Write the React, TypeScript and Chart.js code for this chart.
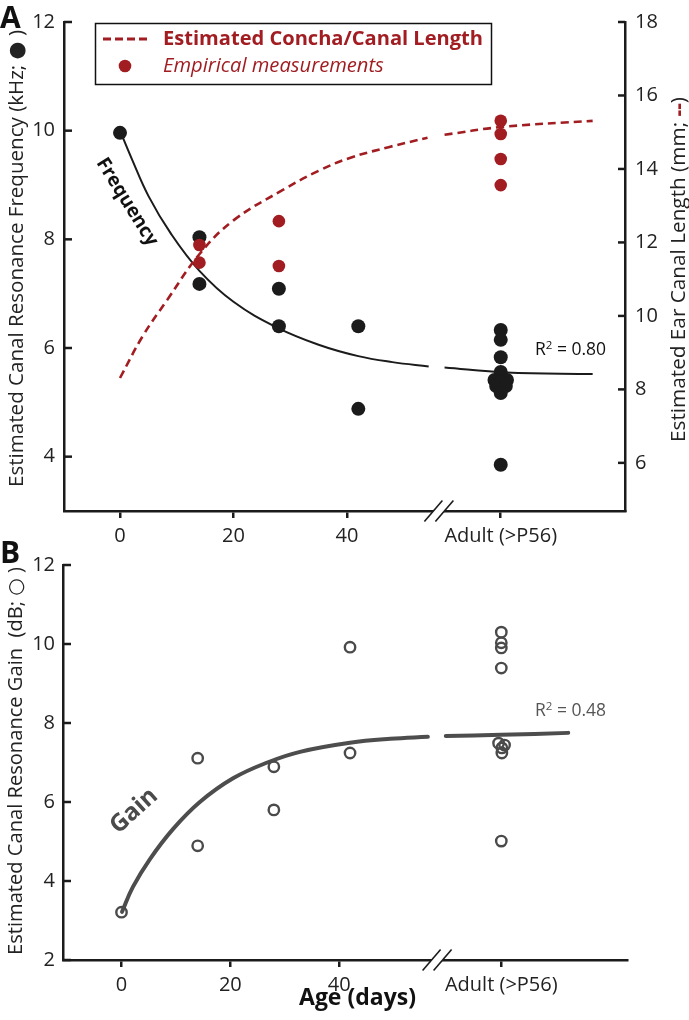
import React, { useEffect, useRef } from "react";
import { Chart, registerables } from "chart.js";

Chart.register(...registerables);

// ---------- styling ----------
const FONT = '"Open Sans", "Noto Sans", "DejaVu Sans", sans-serif';
const RED = "#a11d22";
const INK = "#1b1b1b";
const GRAY = "#4a4a4a";
const TEXT = "#222222";

// ---------- x axis (broken: pups 0–42 d, then adults) ----------
const AGE_TICKS = [0, 20, 40];
const ADULT_LABEL = "Adult (>P56)";
const ADULT_POS_A = 67.1; // where the adult column sits on panel A's broken axis
const ADULT_POS_B = 69.8; // same for panel B
const BREAK_POS_A = 56.2;
const BREAK_POS_B = 58.0;
const X_RANGE_A = [-9.87, 89.0];
const X_RANGE_B = [-10.75, 92.9];

// ---------- panel A: frequency (left axis, kHz) ----------
const FREQ_TICKS = [4, 6, 8, 10, 12];
const FREQ_RANGE = [3, 12];
const FREQ_PUP_AGES = [0, 14, 14, 28, 28, 42, 42];
const FREQ_PUP_VALUES = [9.96, 8.04, 7.18, 7.09, 6.4, 6.4, 4.88];
const FREQ_ADULT_VALUES = [6.33, 6.15, 5.83, 5.56, 5.41, 5.41, 5.37, 5.3, 5.3, 5.17, 3.85];
const FREQ_ADULT_JITTER = [0, 0, 0, 0, -1.1, 1.1, 0, -0.8, 0.9, 0, 0];
const FREQ_FIT_AGES = [0, 2, 5, 9, 14, 20, 27.6, 35, 42, 48, 54.4];
const FREQ_FIT_VALUES = [10.0, 9.5, 8.8, 8.1, 7.42, 6.85, 6.38, 6.06, 5.85, 5.74, 5.66];
const FREQ_FIT_ADULT_AGES = [57.2, 68.1, 83.3];
const FREQ_FIT_ADULT_VALUES = [5.64, 5.55, 5.52];
const FREQ_R2 = "0.80";

// ---------- panel A: canal length (right axis, mm) ----------
const LENGTH_TICKS = [6, 8, 10, 12, 14, 16, 18];
const LENGTH_RANGE = [4.69, 18];
const LENGTH_PUP_AGES = [14, 14, 28, 28];
const LENGTH_PUP_VALUES = [11.93, 11.45, 12.58, 11.36];
const LENGTH_ADULT_VALUES = [15.31, 14.95, 14.27, 13.56];
const LENGTH_FIT_AGES = [0, 4, 8.3, 14.1, 20, 28.7, 35, 40.5, 47.5, 54.2];
const LENGTH_FIT_VALUES = [8.31, 9.45, 10.43, 11.7, 12.6, 13.43, 13.95, 14.3, 14.6, 14.85];
const LENGTH_FIT_ADULT_AGES = [57.2, 67.1, 83.3];
const LENGTH_FIT_ADULT_VALUES = [14.93, 15.14, 15.31];

// ---------- panel B: gain (dB) ----------
const GAIN_TICKS = [2, 4, 6, 8, 10, 12];
const GAIN_RANGE = [2, 12];
const GAIN_PUP_AGES = [0, 14, 14, 28, 28, 42, 42];
const GAIN_PUP_VALUES = [3.21, 7.11, 4.89, 6.89, 5.8, 9.92, 7.24];
const GAIN_ADULT_VALUES = [10.3, 10.03, 9.9, 9.39, 7.49, 7.44, 7.37, 7.24, 5.01];
const GAIN_ADULT_JITTER = [0, 0, 0, 0, -0.5, 0.6, 0.1, 0.1, 0];
const GAIN_FIT_AGES = [0.1, 2.1, 5.2, 9.5, 14.4, 20.5, 26.8, 32.8, 42.0, 49.4, 56.3];
const GAIN_FIT_VALUES = [3.22, 3.85, 4.55, 5.32, 6.0, 6.6, 7.0, 7.27, 7.5, 7.6, 7.65];
const GAIN_FIT_ADULT_AGES = [59.6, 69.8, 82.1];
const GAIN_FIT_ADULT_VALUES = [7.67, 7.7, 7.75];
const GAIN_R2 = "0.48";

// ---------- texts ----------
const TITLE_FREQ = "Estimated Canal Resonance Frequency (kHz; \u25CF )";
const TITLE_LENGTH = "Estimated Ear Canal Length (mm; ";
const TITLE_GAIN = "Estimated Canal Resonance Gain  (dB; \u25CB )";
const X_TITLE = "Age (days)";
const LEGEND_LINE = "Estimated Concha/Canal Length";
const LEGEND_DOTS = "Empirical measurements";

type Pt = { x: number; y: number | null };
const zip = (xs: number[], ys: number[]): Pt[] => xs.map((x, i) => ({ x, y: ys[i] }));
const brokenCurve = (lx: number[], ly: number[], bx: number, rx: number[], ry: number[]): Pt[] => [
  ...zip(lx, ly),
  { x: bx, y: null },
  ...zip(rx, ry),
];

function setFit(ctx: CanvasRenderingContext2D, text: string, style: string, target: number) {
  ctx.font = `${style} 20px ${FONT}`;
  const w = ctx.measureText(text).width;
  const size = (20 * target) / w;
  ctx.font = `${style} ${size.toFixed(2)}px ${FONT}`;
  return size;
}

function rotated(ctx: CanvasRenderingContext2D, x: number, y: number, a: number, fn: () => void) {
  ctx.save();
  ctx.translate(x, y);
  ctx.rotate(a);
  fn();
  ctx.restore();
}

type Run = { t: string; style: string; color: string };
function drawRuns(ctx: CanvasRenderingContext2D, runs: Run[], cx: number, cy: number, target: number) {
  let total = 0;
  for (const r of runs) {
    ctx.font = `${r.style} 20px ${FONT}`;
    total += ctx.measureText(r.t).width;
  }
  const size = (20 * target) / total;
  let x = -target / 2;
  ctx.textAlign = "left";
  ctx.textBaseline = "middle";
  for (const r of runs) {
    ctx.font = `${r.style} ${size.toFixed(2)}px ${FONT}`;
    ctx.fillStyle = r.color;
    ctx.fillText(r.t, cx + x, cy);
    x += ctx.measureText(r.t).width;
  }
}

function drawR2(ctx: CanvasRenderingContext2D, x: number, base: number, value: string, color: string) {
  ctx.fillStyle = color;
  ctx.textAlign = "left";
  ctx.textBaseline = "alphabetic";
  ctx.font = `400 17.5px ${FONT}`;
  ctx.fillText("R", x, base);
  let cx = x + ctx.measureText("R").width;
  ctx.font = `400 11.5px ${FONT}`;
  ctx.fillText("2", cx, base - 6.5);
  cx += ctx.measureText("2").width;
  ctx.font = `400 17.5px ${FONT}`;
  ctx.fillText(" = " + value, cx, base);
}

function drawBreak(ctx: CanvasRenderingContext2D, cx: number, y: number) {
  ctx.save();
  ctx.fillStyle = "#ffffff";
  ctx.beginPath();
  ctx.moveTo(cx - 5.5 - 3.5, y + 4);
  ctx.lineTo(cx - 5.5 + 3.5, y - 4);
  ctx.lineTo(cx + 5.5 + 3.5, y - 4);
  ctx.lineTo(cx + 5.5 - 3.5, y + 4);
  ctx.closePath();
  ctx.fill();
  ctx.strokeStyle = INK;
  ctx.lineWidth = 1.6;
  for (const d of [-5.5, 5.5]) {
    ctx.beginPath();
    ctx.moveTo(cx + d - 9, y + 10.5);
    ctx.lineTo(cx + d + 9, y - 10.5);
    ctx.stroke();
  }
  ctx.restore();
}

function inwardTicks(ctx: CanvasRenderingContext2D, chart: any, id: string, side: "left" | "right", len: number) {
  const s = chart.scales[id];
  if (!s) return;
  ctx.save();
  ctx.strokeStyle = INK;
  ctx.lineWidth = 2.5;
  const x0 = side === "left" ? chart.chartArea.left : chart.chartArea.right;
  const x1 = side === "left" ? x0 + len : x0 - len;
  for (const t of s.ticks) {
    const y = s.getPixelForValue(t.value);
    ctx.beginPath();
    ctx.moveTo(x0, y);
    ctx.lineTo(x1, y);
    ctx.stroke();
  }
  ctx.restore();
}

const tickFont = { family: FONT, size: 20 };

function xScale(range: number[], adultPos: number, afterH: number) {
  return {
    type: "linear",
    position: "bottom",
    min: range[0],
    max: range[1],
    afterBuildTicks: (s: any) => {
      s.ticks = [...AGE_TICKS, adultPos].map((v) => ({ value: v }));
    },
    afterFit: (s: any) => {
      s.height = afterH;
    },
    ticks: {
      autoSkip: false,
      maxRotation: 0,
      minRotation: 0,
      padding: 6,
      color: TEXT,
      font: tickFont,
      callback: (v: number) => (Math.abs(v - adultPos) < 0.01 ? ADULT_LABEL : String(v)),
    },
    grid: { drawOnChartArea: false, drawTicks: true, tickLength: 7, lineWidth: 2.5, color: INK },
    border: { color: INK, width: 2.5 },
  };
}

function yScale(pos: "left" | "right", range: number[], ticks: number[], width: number, pad: number) {
  return {
    type: "linear",
    position: pos,
    min: range[0],
    max: range[1],
    afterBuildTicks: (s: any) => {
      s.ticks = ticks.map((v) => ({ value: v }));
    },
    afterFit: (s: any) => {
      s.width = width;
    },
    ticks: { padding: pad, color: TEXT, font: tickFont },
    grid: { display: false, drawTicks: false, drawOnChartArea: false },
    border: { color: INK, width: 2.5 },
  };
}

const curveStyle = { showLine: true, pointRadius: 0, tension: 0.4 };

function configA(): any {
  const freqDots = [
    ...zip(FREQ_PUP_AGES, FREQ_PUP_VALUES),
    ...FREQ_ADULT_VALUES.map((v, i) => ({ x: ADULT_POS_A + FREQ_ADULT_JITTER[i], y: v })),
  ];
  const lenDots = [
    ...zip(LENGTH_PUP_AGES, LENGTH_PUP_VALUES),
    ...LENGTH_ADULT_VALUES.map((v) => ({ x: ADULT_POS_A, y: v })),
  ];
  const annot = {
    id: "annotA",
    afterDraw(chart: any) {
      const ctx: CanvasRenderingContext2D = chart.ctx;
      inwardTicks(ctx, chart, "y", "left", 8);
      inwardTicks(ctx, chart, "y2", "right", 7);
      drawBreak(ctx, chart.scales.x.getPixelForValue(BREAK_POS_A), chart.chartArea.bottom);

      ctx.save();
      ctx.fillStyle = "#111";
      ctx.font = `700 30px ${FONT}`;
      ctx.textAlign = "left";
      ctx.textBaseline = "alphabetic";
      ctx.fillText("A", 0, 28);

      rotated(ctx, 17, 258.5, -Math.PI / 2, () => {
        setFit(ctx, TITLE_FREQ, "normal 400", 457);
        ctx.fillStyle = TEXT;
        ctx.textAlign = "center";
        ctx.textBaseline = "middle";
        ctx.fillText(TITLE_FREQ, 0, 0);
      });
      rotated(ctx, 679, 269.5, -Math.PI / 2, () => {
        drawRuns(
          ctx,
          [
            { t: TITLE_LENGTH, style: "normal 400", color: TEXT },
            { t: "--", style: "normal 700", color: RED },
            { t: ")", style: "normal 400", color: TEXT },
          ],
          0,
          0,
          345
        );
      });

      // legend
      ctx.strokeStyle = "#111";
      ctx.lineWidth = 1.5;
      ctx.strokeRect(95.5, 23.5, 396, 61);
      ctx.strokeStyle = RED;
      ctx.lineWidth = 3;
      ctx.setLineDash([8, 4]);
      ctx.beginPath();
      ctx.moveTo(103, 39);
      ctx.lineTo(147, 39);
      ctx.stroke();
      ctx.setLineDash([]);
      ctx.fillStyle = RED;
      ctx.beginPath();
      ctx.arc(125, 66, 6.3, 0, Math.PI * 2);
      ctx.fill();
      ctx.textAlign = "left";
      ctx.textBaseline = "middle";
      setFit(ctx, LEGEND_LINE, "normal 700", 320);
      ctx.fillText(LEGEND_LINE, 163, 39);
      setFit(ctx, LEGEND_DOTS, "italic 400", 221);
      ctx.fillText(LEGEND_DOTS, 163, 66);

      ctx.fillStyle = "#111";
      rotated(ctx, 127, 202, (58 * Math.PI) / 180, () => {
        setFit(ctx, "Frequency", "normal 700", 100);
        ctx.textAlign = "center";
        ctx.textBaseline = "middle";
        ctx.fillText("Frequency", 0, 0);
      });

      drawR2(ctx, 535, 355, FREQ_R2, "#111");
      ctx.restore();
    },
  };

  return {
    type: "scatter",
    data: {
      datasets: [
        {
          label: "Empirical measurements",
          data: lenDots,
          yAxisID: "y2",
          pointRadius: 6.3,
          pointBackgroundColor: RED,
          pointBorderWidth: 0,
          order: 0,
        },
        {
          label: "Estimated Concha/Canal Length",
          data: brokenCurve(LENGTH_FIT_AGES, LENGTH_FIT_VALUES, BREAK_POS_A, LENGTH_FIT_ADULT_AGES, LENGTH_FIT_ADULT_VALUES),
          yAxisID: "y2",
          ...curveStyle,
          borderColor: RED,
          borderWidth: 2.6,
          borderDash: [8, 5],
          order: 1,
        },
        {
          label: "Frequency",
          data: freqDots,
          yAxisID: "y",
          pointRadius: 7,
          pointBackgroundColor: INK,
          pointBorderWidth: 0,
          order: 2,
        },
        {
          label: "Frequency fit",
          data: brokenCurve(FREQ_FIT_AGES, FREQ_FIT_VALUES, BREAK_POS_A, FREQ_FIT_ADULT_AGES, FREQ_FIT_ADULT_VALUES),
          yAxisID: "y",
          ...curveStyle,
          borderColor: INK,
          borderWidth: 2,
          order: 3,
        },
      ],
    },
    options: {
      animation: false,
      responsive: false,
      events: [],
      layout: { padding: { top: 22, left: 0, right: 0, bottom: 0 } },
      plugins: { legend: { display: false }, tooltip: { enabled: false } },
      scales: {
        x: xScale(X_RANGE_A, ADULT_POS_A, 49),
        y: yScale("left", FREQ_RANGE, FREQ_TICKS, 64, 9),
        y2: yScale("right", LENGTH_RANGE, LENGTH_TICKS, 64, 10),
      },
    },
    plugins: [annot],
  };
}

function configB(): any {
  const dots = [
    ...zip(GAIN_PUP_AGES, GAIN_PUP_VALUES),
    ...GAIN_ADULT_VALUES.map((v, i) => ({ x: ADULT_POS_B + GAIN_ADULT_JITTER[i], y: v })),
  ];
  const annot = {
    id: "annotB",
    afterDraw(chart: any) {
      const ctx: CanvasRenderingContext2D = chart.ctx;
      inwardTicks(ctx, chart, "y", "left", 8);
      drawBreak(ctx, chart.scales.x.getPixelForValue(BREAK_POS_B), chart.chartArea.bottom);
      ctx.save();
      ctx.fillStyle = "#111";
      ctx.font = `700 30px ${FONT}`;
      ctx.textAlign = "left";
      ctx.textBaseline = "alphabetic";
      ctx.fillText("B", 0, 28);

      rotated(ctx, 16, 226, -Math.PI / 2, () => {
        setFit(ctx, TITLE_GAIN, "normal 400", 388);
        ctx.fillStyle = TEXT;
        ctx.textAlign = "center";
        ctx.textBaseline = "middle";
        ctx.fillText(TITLE_GAIN, 0, 0);
      });

      setFit(ctx, X_TITLE, "normal 700", 117);
      ctx.fillStyle = "#111";
      ctx.textAlign = "center";
      ctx.textBaseline = "alphabetic";
      ctx.fillText(X_TITLE, 357.5, 470);

      ctx.fillStyle = GRAY;
      rotated(ctx, 134, 276, (-42 * Math.PI) / 180, () => {
        setFit(ctx, "Gain", "normal 700", 55);
        ctx.textAlign = "center";
        ctx.textBaseline = "middle";
        ctx.fillText("Gain", 0, 0);
      });

      drawR2(ctx, 535, 181, GAIN_R2, "#555");
      ctx.restore();
    },
  };
  return {
    type: "scatter",
    data: {
      datasets: [
        {
          label: "Gain",
          data: dots,
          pointRadius: 5.2,
          pointBackgroundColor: "rgba(0,0,0,0)",
          pointBorderColor: GRAY,
          pointBorderWidth: 2.4,
          order: 0,
        },
        {
          label: "Gain fit",
          data: brokenCurve(GAIN_FIT_AGES, GAIN_FIT_VALUES, BREAK_POS_B, GAIN_FIT_ADULT_AGES, GAIN_FIT_ADULT_VALUES),
          ...curveStyle,
          borderColor: "#4d4d4d",
          borderWidth: 4,
          borderCapStyle: "round",
          order: 1,
        },
      ],
    },
    options: {
      animation: false,
      responsive: false,
      events: [],
      layout: { padding: { top: 30, left: 0, right: 62, bottom: 0 } },
      plugins: { legend: { display: false }, tooltip: { enabled: false } },
      scales: {
        x: xScale(X_RANGE_B, ADULT_POS_B, 60),
        y: yScale("left", GAIN_RANGE, GAIN_TICKS, 63, 8),
      },
    },
    plugins: [annot],
  };
}

function Panel({ top, height, make }: { top: number; height: number; make: () => any }) {
  const ref = useRef<HTMLCanvasElement>(null);
  useEffect(() => {
    const chart = new Chart(ref.current as HTMLCanvasElement, make());
    return () => chart.destroy();
  }, []);
  return (
    <canvas
      ref={ref}
      width={689}
      height={height}
      style={{ position: "absolute", left: 0, top, width: 689, height, display: "block" }}
    />
  );
}

export default function App() {
  return (
    <div style={{ position: "absolute", left: 0, top: 0, width: 689, height: 1020, background: "#fff" }}>
      <Panel top={0} height={560} make={configA} />
      <Panel top={535} height={485} make={configB} />
    </div>
  );
}
